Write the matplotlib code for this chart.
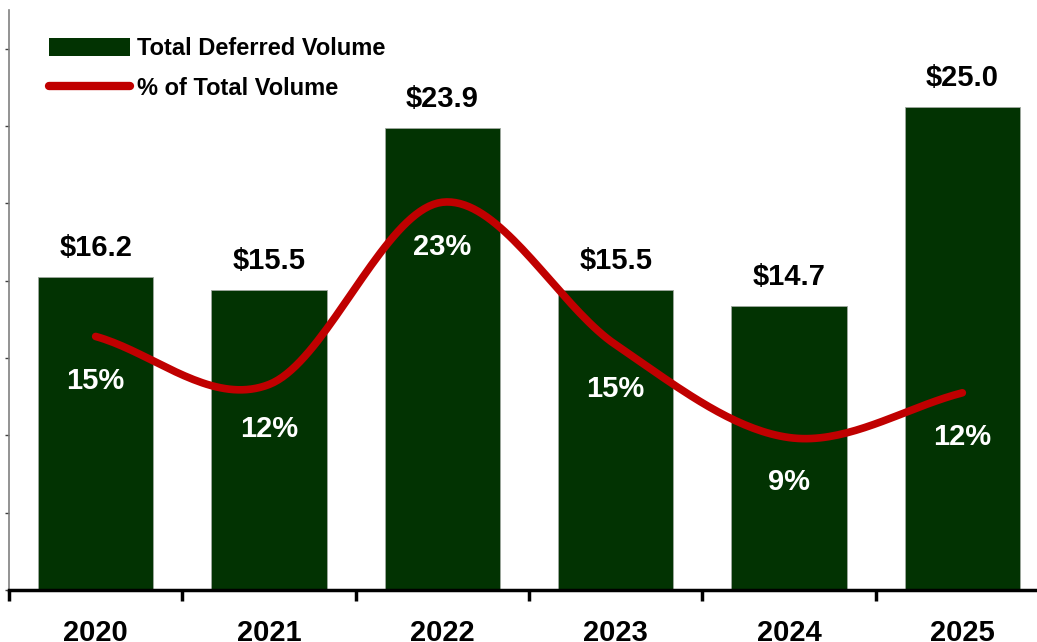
import matplotlib.pyplot as plt
import numpy as np
from matplotlib.lines import Line2D
from matplotlib.patches import Patch

plt.rcParams['font.family'] = ['Liberation Sans', 'DejaVu Sans']

years = ['2020', '2021', '2022', '2023', '2024', '2025']
volume = [16.2, 15.5, 23.9, 15.5, 14.7, 25.0]          # $ billions
pct_total = [15.3, 12.4, 23.4, 14.8, 9.2, 11.9]         # % of total volume

green = '#023302'
red = '#C00000'

fig = plt.figure(figsize=(10.37, 6.42), dpi=100)
ax = fig.add_axes([9 / 1037, 52 / 642, 1040 / 1037, 580 / 642])
x = np.arange(len(years))

ax.bar(x, volume, width=0.665, color=green, edgecolor='#a0a8a0', linewidth=0.6, zorder=2)
ax.set_xlim(-0.5, len(years) - 0.5)
ax.set_ylim(0, 30)

for xi, v in zip(x, volume):
    ax.annotate(f'${v:.1f}', (xi, v), xytext=(0, 21), textcoords='offset points',
                ha='center', va='center', fontsize=21, fontweight='bold')

# axes styling
ax.spines['top'].set_visible(False)
ax.spines['right'].set_visible(False)
ax.spines['left'].set_color('#808080')
ax.spines['left'].set_linewidth(1.2)
ax.spines['bottom'].set_linewidth(2.5)
ax.set_yticks(np.arange(0, 31, 4))
ax.set_yticklabels([])
ax.tick_params(axis='y', length=3, width=1, color='#404040')
ax.set_xticks(x)
ax.set_xticklabels(years, fontsize=21, fontweight='bold')
ax.tick_params(axis='x', which='major', length=0, pad=21)
ax.set_xticks(np.arange(-0.5, len(years), 1), minor=True)
ax.tick_params(axis='x', which='minor', length=8, width=2.5, color='black')

# secondary axis for the percentage line
ax2 = ax.twinx()
ax2.set_ylim(0, 35)
ax2.axis('off')

# smoothed line (Catmull-Rom through the data points, like Excel's smoothing)
px = np.array(x, dtype=float)
py = np.array(pct_total, dtype=float)
P = np.column_stack([px, py])
P_ext = np.vstack([2 * P[0] - P[1], P, 2 * P[-1] - P[-2]])
curve = []
t = np.linspace(0, 1, 40)[:, None]
for i in range(1, len(P_ext) - 2):
    p0, p1, p2, p3 = P_ext[i - 1], P_ext[i], P_ext[i + 1], P_ext[i + 2]
    seg = 0.5 * ((2 * p1) + (-p0 + p2) * t + (2 * p0 - 5 * p1 + 4 * p2 - p3) * t ** 2
                 + (-p0 + 3 * p1 - 3 * p2 + p3) * t ** 3)
    curve.append(seg)
curve = np.vstack(curve)
ax2.plot(curve[:, 0], curve[:, 1], color=red, lw=5.5, solid_capstyle='round', zorder=3)

for xi, p in zip(x, pct_total):
    ax2.annotate(f'{p:.0f}%', (xi, p), xytext=(0, -32), textcoords='offset points',
                 ha='center', va='center', fontsize=21, fontweight='bold', color='white')

handles = [Patch(facecolor=green, edgecolor='none'),
           Line2D([0], [0], color=red, lw=6, solid_capstyle='round')]
leg = fig.legend(handles, ['Total Deferred Volume', '% of Total Volume'],
                 loc='upper left', bbox_to_anchor=(40 / 1037, 1 - 28 / 642),
                 frameon=False, prop={'size': 17, 'weight': 'bold'},
                 handlelength=3.4, handleheight=0.8, handletextpad=0.3,
                 labelspacing=0.7, borderaxespad=0)

fig.savefig('out.png', dpi=100)
